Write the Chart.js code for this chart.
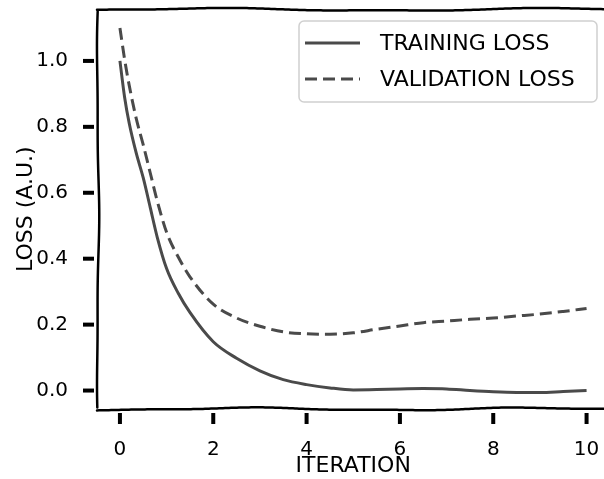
<!DOCTYPE html>
<html>
<head>
<meta charset="utf-8">
<script src="https://cdn.jsdelivr.net/npm/chart.js@4"></script>
<style>
  html, body { margin: 0; padding: 0; background: #fff; overflow: hidden; }
  canvas { display: block; }
</style>
</head>
<body>
<canvas id="lossChart" width="612" height="479"></canvas>
<script>
// Data
const iterations = [0, 0.1, 0.2, 0.35, 0.5, 0.65, 0.8, 1, 1.25, 1.5, 2, 2.5, 3, 3.5, 4, 4.5, 5, 5.5, 6, 6.5, 7, 7.5, 8, 8.5, 9, 9.5, 10];
const trainingLoss = [1.0, 0.89, 0.81, 0.72, 0.645, 0.555, 0.465, 0.37, 0.295, 0.237, 0.148, 0.098, 0.060, 0.033, 0.018, 0.008, 0.002, 0.003, 0.005, 0.006, 0.005, 0.0, -0.004, -0.006, -0.006, -0.003, 0.0];
const validationLoss = [1.10, 1.005, 0.925, 0.825, 0.745, 0.66, 0.575, 0.48, 0.405, 0.345, 0.262, 0.22, 0.195, 0.178, 0.172, 0.171, 0.175, 0.186, 0.196, 0.206, 0.211, 0.216, 0.220, 0.226, 0.232, 0.240, 0.249];
const xTicks = [0, 2, 4, 6, 8, 10];
const yTicks = [0.0, 0.2, 0.4, 0.6, 0.8, 1.0];
const seriesLabels = ['TRAINING LOSS', 'VALIDATION LOSS'];

const FONT = 'DejaVu Sans';
const LINE = '#4a4a4a';

function toPoints(ys) {
    return iterations.map((x, i) => ({ x: x, y: ys[i] }));
}

// wobbly line like the xkcd spines
function wobble(ctx, x0, y0, x1, y1, amp, period, phase) {
    const len = Math.hypot(x1 - x0, y1 - y0);
    const nx = -(y1 - y0) / len, ny = (x1 - x0) / len;
    ctx.beginPath();
    for (let s = 0; s <= len; s += 2) {
        const t = s / len;
        const d = amp * Math.sin(s / period + phase) + amp * 0.4 * Math.sin(s / (period * 0.43) + phase * 2);
        const px = x0 + (x1 - x0) * t + nx * d;
        const py = y0 + (y1 - y0) * t + ny * d;
        if (s === 0) ctx.moveTo(px, py); else ctx.lineTo(px, py);
    }
    ctx.stroke();
}

// drop the extra space Chart.js keeps for edge labels
function noEdgePadding(s) {
    s.paddingTop = 0;
    s.paddingBottom = 0;
    s.paddingLeft = 0;
    s.paddingRight = 0;
}

const axesPlugin = {
    id: 'xkcdAxes',
    afterDraw(chart) {
        const ctx = chart.ctx;
        const a = chart.chartArea;
        const xs = chart.scales.x, ys = chart.scales.y;
        ctx.save();
        ctx.strokeStyle = '#000';
        ctx.lineWidth = 2.5;
        ctx.lineCap = 'round';
        wobble(ctx, a.left, a.top + 2, a.left, a.bottom, 0.9, 45, 0.2);
        wobble(ctx, a.left - 1, a.bottom, a.right, a.bottom, 1.2, 45, 1.3);
        wobble(ctx, a.left - 1, a.top, a.right, a.top, 1.2, 55, 2.6);

        ctx.fillStyle = '#000';
        yTicks.forEach(v => {
            const py = ys.getPixelForValue(v);
            ctx.fillRect(a.left - 15, py - 2, 11, 4);
        });
        xTicks.forEach(v => {
            const px = xs.getPixelForValue(v);
            ctx.fillRect(px - 2, a.bottom + 4, 4, 11);
        });

        // legend box
        const bx = 299, by = 21, bw = 298, bh = 81;
        ctx.beginPath();
        ctx.roundRect(bx, by, bw, bh, 5);
        ctx.fillStyle = 'rgba(255,255,255,0.85)';
        ctx.fill();
        ctx.strokeStyle = '#d0d0d0';
        ctx.lineWidth = 1.5;
        ctx.stroke();

        chart.data.datasets.forEach((ds, i) => {
            const ly = 43 + i * 36;
            ctx.strokeStyle = ds.borderColor;
            ctx.lineWidth = ds.borderWidth;
            ctx.lineCap = 'butt';
            ctx.setLineDash(ds.borderDash || []);
            ctx.beginPath();
            ctx.moveTo(305, ly);
            ctx.lineTo(360, ly);
            ctx.stroke();
            ctx.setLineDash([]);
            ctx.fillStyle = '#000';
            ctx.font = '22px "' + FONT + '"';
            ctx.textBaseline = 'middle';
            ctx.textAlign = 'left';
            ctx.fillText(ds.label, 380, ly + 1);
        });
        ctx.restore();
    }
};

new Chart(document.getElementById('lossChart'), {
    type: 'line',
    data: {
        datasets: [{
            label: seriesLabels[0],
            data: toPoints(trainingLoss),
            borderColor: LINE,
            borderWidth: 3,
            pointRadius: 0,
            cubicInterpolationMode: 'monotone',
            fill: false
        }, {
            label: seriesLabels[1],
            data: toPoints(validationLoss),
            borderColor: LINE,
            borderWidth: 3,
            borderDash: [12, 6],
            pointRadius: 0,
            cubicInterpolationMode: 'monotone',
            fill: false
        }]
    },
    options: {
        responsive: false,
        animation: false,
        layout: { padding: { left: 0, top: 9.5, right: 3.5, bottom: 0 } },
        plugins: {
            legend: { display: false },
            tooltip: { enabled: false }
        },
        scales: {
            x: {
                type: 'linear',
                min: -0.47,
                max: 10.47,
                afterBuildTicks: s => { s.ticks = xTicks.map(v => ({ value: v })); },
                afterFit: s => { s.height = 70; noEdgePadding(s); },
                grid: { display: false },
                border: { display: false },
                ticks: {
                    color: '#000',
                    padding: 21,
                    maxRotation: 0,
                    font: { family: FONT, size: 20 },
                    callback: v => String(v)
                },
                title: {
                    display: true,
                    text: 'ITERATION',
                    color: '#000',
                    font: { family: FONT, size: 22 },
                    padding: { top: 0, bottom: 0 }
                }
            },
            y: {
                min: -0.056,
                max: 1.156,
                afterBuildTicks: s => { s.ticks = yTicks.map(v => ({ value: v })); },
                afterFit: s => { s.width = 98; noEdgePadding(s); },
                grid: { display: false },
                border: { display: false },
                ticks: {
                    color: '#000',
                    padding: 22,
                    font: { family: FONT, size: 20 },
                    callback: v => v.toFixed(1)
                },
                title: {
                    display: true,
                    text: 'LOSS (A.U.)',
                    color: '#000',
                    font: { family: FONT, size: 22 },
                    padding: { top: 13, bottom: 0 }
                }
            }
        }
    },
    plugins: [axesPlugin]
});
</script>
</body>
</html>
